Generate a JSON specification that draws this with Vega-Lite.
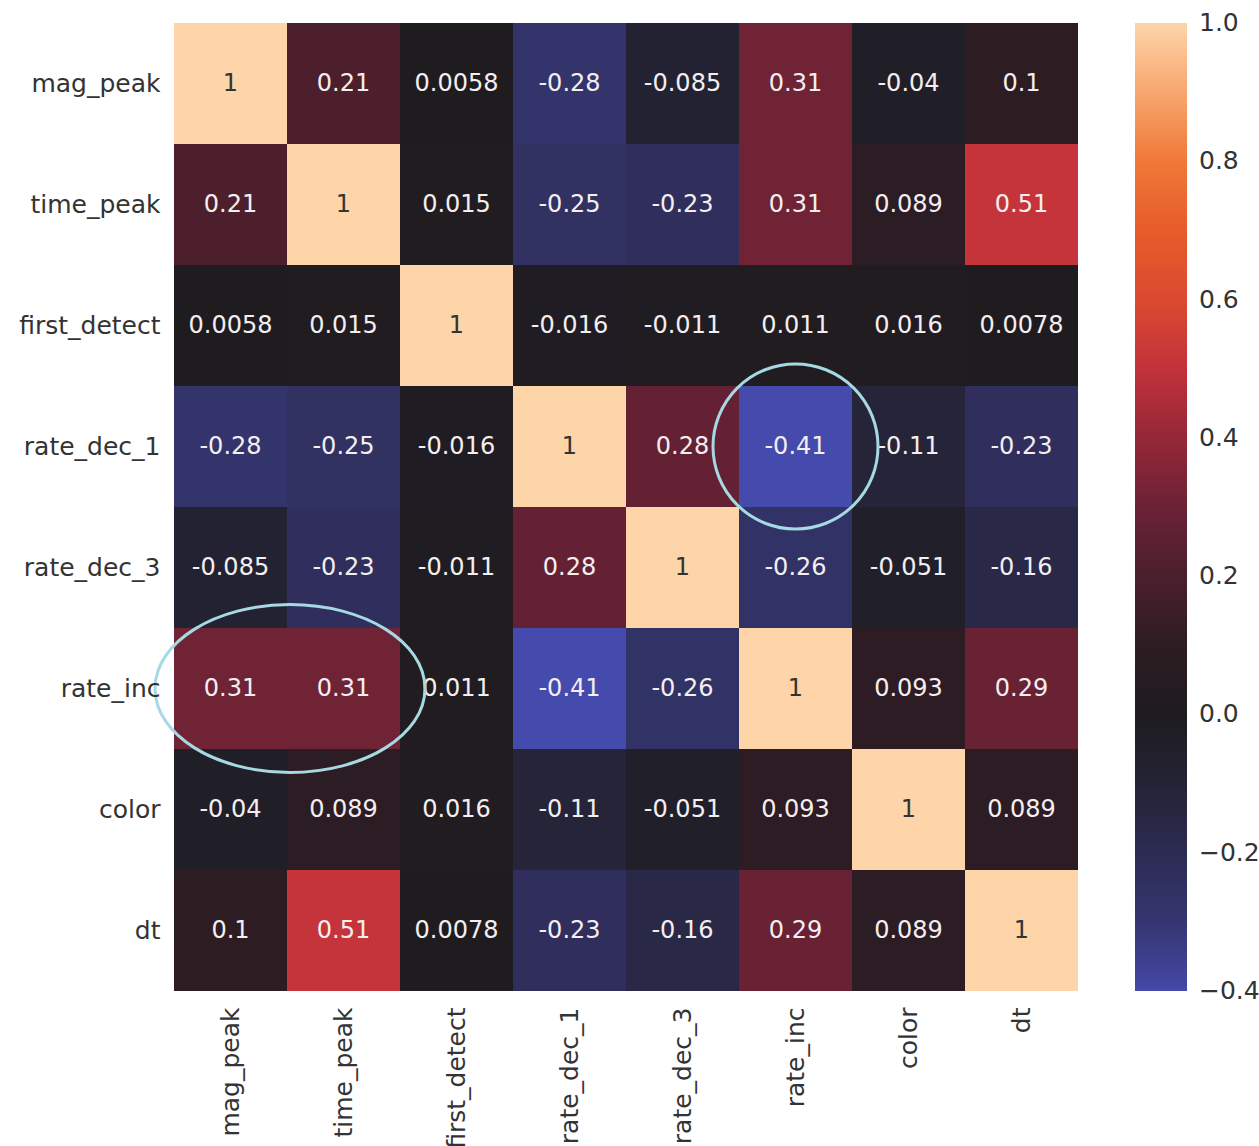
{
  "$schema": "https://vega.github.io/schema/vega-lite/v6.json",
  "autosize": {"type": "none"},
  "width": 904,
  "height": 968,
  "padding": {"left": 174, "top": 23, "right": 181, "bottom": 155},
  "background": "white",
  "config": {
    "font": "DejaVu Sans",
    "view": {"stroke": null},
    "axis": {"domain": false, "ticks": false, "grid": false, "labelFont": "DejaVu Sans", "labelFontSize": 25, "labelColor": "#333333", "title": null}
  },
  "datasets": {
    "corr": [
      {"r": "mag_peak", "c": "mag_peak", "v": 1},
      {"r": "mag_peak", "c": "time_peak", "v": 0.21},
      {"r": "mag_peak", "c": "first_detect", "v": 0.0058},
      {"r": "mag_peak", "c": "rate_dec_1", "v": -0.28},
      {"r": "mag_peak", "c": "rate_dec_3", "v": -0.085},
      {"r": "mag_peak", "c": "rate_inc", "v": 0.31},
      {"r": "mag_peak", "c": "color", "v": -0.04},
      {"r": "mag_peak", "c": "dt", "v": 0.1},
      {"r": "time_peak", "c": "mag_peak", "v": 0.21},
      {"r": "time_peak", "c": "time_peak", "v": 1},
      {"r": "time_peak", "c": "first_detect", "v": 0.015},
      {"r": "time_peak", "c": "rate_dec_1", "v": -0.25},
      {"r": "time_peak", "c": "rate_dec_3", "v": -0.23},
      {"r": "time_peak", "c": "rate_inc", "v": 0.31},
      {"r": "time_peak", "c": "color", "v": 0.089},
      {"r": "time_peak", "c": "dt", "v": 0.51},
      {"r": "first_detect", "c": "mag_peak", "v": 0.0058},
      {"r": "first_detect", "c": "time_peak", "v": 0.015},
      {"r": "first_detect", "c": "first_detect", "v": 1},
      {"r": "first_detect", "c": "rate_dec_1", "v": -0.016},
      {"r": "first_detect", "c": "rate_dec_3", "v": -0.011},
      {"r": "first_detect", "c": "rate_inc", "v": 0.011},
      {"r": "first_detect", "c": "color", "v": 0.016},
      {"r": "first_detect", "c": "dt", "v": 0.0078},
      {"r": "rate_dec_1", "c": "mag_peak", "v": -0.28},
      {"r": "rate_dec_1", "c": "time_peak", "v": -0.25},
      {"r": "rate_dec_1", "c": "first_detect", "v": -0.016},
      {"r": "rate_dec_1", "c": "rate_dec_1", "v": 1},
      {"r": "rate_dec_1", "c": "rate_dec_3", "v": 0.28},
      {"r": "rate_dec_1", "c": "rate_inc", "v": -0.41},
      {"r": "rate_dec_1", "c": "color", "v": -0.11},
      {"r": "rate_dec_1", "c": "dt", "v": -0.23},
      {"r": "rate_dec_3", "c": "mag_peak", "v": -0.085},
      {"r": "rate_dec_3", "c": "time_peak", "v": -0.23},
      {"r": "rate_dec_3", "c": "first_detect", "v": -0.011},
      {"r": "rate_dec_3", "c": "rate_dec_1", "v": 0.28},
      {"r": "rate_dec_3", "c": "rate_dec_3", "v": 1},
      {"r": "rate_dec_3", "c": "rate_inc", "v": -0.26},
      {"r": "rate_dec_3", "c": "color", "v": -0.051},
      {"r": "rate_dec_3", "c": "dt", "v": -0.16},
      {"r": "rate_inc", "c": "mag_peak", "v": 0.31},
      {"r": "rate_inc", "c": "time_peak", "v": 0.31},
      {"r": "rate_inc", "c": "first_detect", "v": 0.011},
      {"r": "rate_inc", "c": "rate_dec_1", "v": -0.41},
      {"r": "rate_inc", "c": "rate_dec_3", "v": -0.26},
      {"r": "rate_inc", "c": "rate_inc", "v": 1},
      {"r": "rate_inc", "c": "color", "v": 0.093},
      {"r": "rate_inc", "c": "dt", "v": 0.29},
      {"r": "color", "c": "mag_peak", "v": -0.04},
      {"r": "color", "c": "time_peak", "v": 0.089},
      {"r": "color", "c": "first_detect", "v": 0.016},
      {"r": "color", "c": "rate_dec_1", "v": -0.11},
      {"r": "color", "c": "rate_dec_3", "v": -0.051},
      {"r": "color", "c": "rate_inc", "v": 0.093},
      {"r": "color", "c": "color", "v": 1},
      {"r": "color", "c": "dt", "v": 0.089},
      {"r": "dt", "c": "mag_peak", "v": 0.1},
      {"r": "dt", "c": "time_peak", "v": 0.51},
      {"r": "dt", "c": "first_detect", "v": 0.0078},
      {"r": "dt", "c": "rate_dec_1", "v": -0.23},
      {"r": "dt", "c": "rate_dec_3", "v": -0.16},
      {"r": "dt", "c": "rate_inc", "v": 0.29},
      {"r": "dt", "c": "color", "v": 0.089},
      {"r": "dt", "c": "dt", "v": 1}
    ]
  },
  "data": {"name": "corr"},
  "encoding": {
    "x": {"field": "c", "type": "nominal", "scale": {"domain": ["mag_peak", "time_peak", "first_detect", "rate_dec_1", "rate_dec_3", "rate_inc", "color", "dt"], "paddingInner": 0, "paddingOuter": 0},
      "axis": {"orient": "bottom", "labelAngle": -90, "labelPadding": 16, "labelAlign": "right", "labelBaseline": "middle"}},
    "y": {"field": "r", "type": "nominal", "scale": {"domain": ["mag_peak", "time_peak", "first_detect", "rate_dec_1", "rate_dec_3", "rate_inc", "color", "dt"], "paddingInner": 0, "paddingOuter": 0},
      "axis": {"orient": "left", "labelPadding": 14}}
  },
  "layer": [
    {
      "mark": {"type": "rect"},
      "encoding": {
        "color": {"field": "v", "type": "quantitative",
          "scale": {"domain": [-0.4, -0.3, -0.2, -0.1, 0, 0.1, 0.2, 0.3, 0.4, 0.5, 0.6, 0.7, 0.8, 0.9, 1.0],
                    "range": ["#4448a8", "#353671", "#2c2b53", "#242335", "#1e1c1f", "#2e1c23", "#4a1f2c", "#6b2235", "#952738", "#c2323b", "#db4a30", "#e65c2a", "#f07838", "#f7a66e", "#fdd5a8"],
                    "interpolate": "rgb"},
          "legend": {"title": null, "orient": "right", "offset": 57, "padding": 0, "gradientLength": 968, "gradientThickness": 52, "gradientStrokeWidth": 0,
            "values": [-0.4, -0.2, 0, 0.2, 0.4, 0.6, 0.8, 1.0], "format": ".1f", "labelFontSize": 25, "labelColor": "#333333", "labelOffset": 12, "labelFont": "DejaVu Sans", "labelBaseline": "middle", "labelOverlap": false,
            "encode": {"labels": {"update": {"baseline": {"value": "middle"}}}}}}
      }
    },
    {
      "mark": {"type": "text", "fontSize": 24, "font": "DejaVu Sans"},
      "encoding": {
        "text": {"field": "v", "type": "nominal"},
        "color": {"condition": {"test": "datum.v > 0.7", "value": "#333333"}, "value": "#f4eef0"}
      }
    },
    {
      "data": {"values": [{"r": "rate_inc", "c": "mag_peak"}]},
      "mark": {"type": "point", "shape": "M -1 0 A 1 0.622 0 1 0 1 0 A 1 0.622 0 1 0 -1 0 Z", "size": 72900, "filled": false, "stroke": "#a6d9e3", "strokeWidth": 3, "opacity": 1, "xOffset": 3},
      "encoding": {
        "x": {"field": "c", "type": "nominal", "bandPosition": 1}
      }
    },
    {
      "data": {"values": [{"r": "rate_dec_1", "c": "rate_inc"}]},
      "mark": {"type": "point", "shape": "circle", "size": 27225, "filled": false, "stroke": "#a6d9e3", "strokeWidth": 3, "opacity": 1}
    }
  ]
}
